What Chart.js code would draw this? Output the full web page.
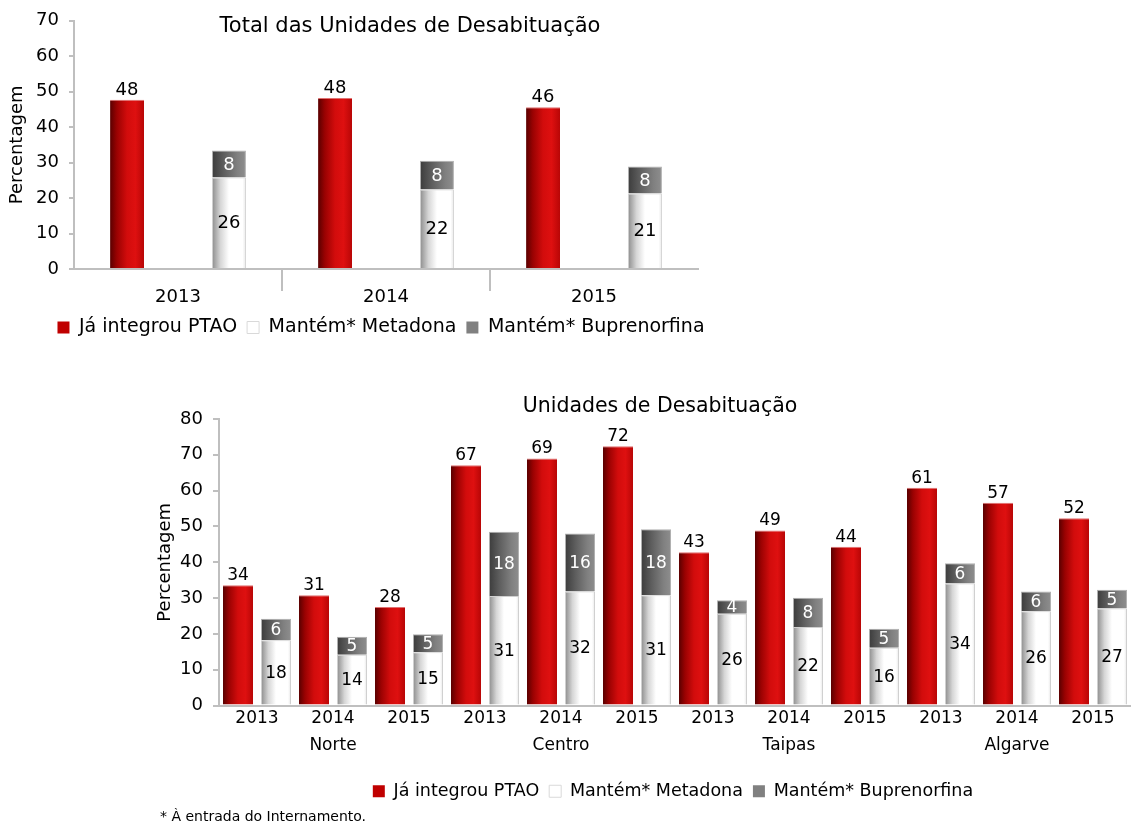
<!DOCTYPE html>
<html>
<head>
<meta charset="utf-8">
<script src="https://cdn.jsdelivr.net/npm/chart.js@4.4.0/dist/chart.umd.min.js"></script>
<style>
  html, body { margin: 0; padding: 0; background: #fff; overflow: hidden; }
  body { width: 1131px; height: 825px; position: relative; }
  #wrapTop { position: absolute; left: 0; top: 0; width: 762px; height: 347px; }
  #wrapBottom { position: absolute; left: 140px; top: 390px; width: 1066px; height: 435px; }
  #note { position: absolute; left: 160px; top: 808px; font-family: "DejaVu Sans", sans-serif; font-size: 14px; color: #000; }
</style>
</head>
<body>
<div id="wrapTop"><canvas id="topChart"></canvas></div>
<div id="wrapBottom"><canvas id="bottomChart"></canvas></div>
<div id="note">* À entrada do Internamento.</div>
<script>
// ---------- data ----------
const topYears = ['2013', '2014', '2015'];
const topPtao = [47.7, 48.2, 45.6];
const topMetadona = [25.8, 22.4, 21.3];
const topBupre = [7.6, 8.1, 7.6];

const unitYears = ['2013', '2014', '2015', '2013', '2014', '2015', '2013', '2014', '2015', '2013', '2014', '2015'];
const unitNames = ['Norte', 'Centro', 'Taipas', 'Algarve'];
const unitPtao = [33.6, 30.8, 27.5, 67.1, 69.0, 72.4, 42.8, 48.9, 44.3, 60.8, 56.6, 52.3];
const unitMetadona = [18.2, 14.2, 14.9, 30.6, 31.8, 30.8, 25.6, 21.9, 16.1, 34.1, 26.3, 27.1];
const unitBupre = [6.0, 5.0, 5.0, 17.9, 16.2, 18.4, 3.8, 8.2, 5.3, 5.6, 5.5, 5.2];

const seriesNames = ['Já integrou PTAO', 'Mantém* Metadona', 'Mantém* Buprenorfina'];

// ---------- style ----------
const FONT = '"DejaVu Sans", sans-serif';
const AXIS = '#bfbfbf';
Chart.defaults.font.family = FONT;
Chart.defaults.color = '#000';
Chart.defaults.animation = false;

const stops = {
  red: [[0, '#5a0000'], [0.2, '#9a0202'], [0.5, '#d20c0c'], [0.75, '#de1010'], [1, '#b80606']],
  white: [[0, '#8c8c8c'], [0.25, '#d6d6d6'], [0.5, '#ffffff'], [0.9, '#ffffff'], [1, '#e6e6e6']],
  grey: [[0, '#3c3c3c'], [0.35, '#5e5e5e'], [0.75, '#808080'], [1, '#8e8e8e']]
};
const legendColor = { red: '#c00000', white: '#ffffff', grey: '#808080' };

function barGradient(kind, slotSide, cp, bp) {
  return function (ctx) {
    const chart = ctx.chart;
    const xs = chart.scales.x;
    if (ctx.type !== 'data' || !xs || !isFinite(xs.width) || xs.width <= 0) return legendColor[kind];
    const n = chart.data.labels.length;
    const catW = xs.width / n;
    const slot = catW * cp / 2;
    const center = xs.getPixelForValue(ctx.dataIndex) + slotSide * slot / 2;
    const w = slot * bp;
    const g = chart.ctx.createLinearGradient(center - w / 2, 0, center + w / 2, 0);
    stops[kind].forEach(s => g.addColorStop(s[0], s[1]));
    return g;
  };
}

function makeDatasets(ptao, meta, bupre, cp, bp) {
  return [
    { label: seriesNames[0], data: ptao, stack: 'a', kind: 'red',
      backgroundColor: barGradient('red', -1, cp, bp), borderColor: '#e07070', borderWidth: { top: 1, left: 0, right: 0, bottom: 0 },
      categoryPercentage: cp, barPercentage: bp },
    { label: seriesNames[1], data: meta, stack: 'b', kind: 'white',
      backgroundColor: barGradient('white', 1, cp, bp), borderColor: '#d0d0d0', borderWidth: 1,
      categoryPercentage: cp, barPercentage: bp },
    { label: seriesNames[2], data: bupre, stack: 'b', kind: 'grey',
      backgroundColor: barGradient('grey', 1, cp, bp), borderColor: '#b0b0b0', borderWidth: 1,
      categoryPercentage: cp, barPercentage: bp }
  ];
}

const valueLabels = {
  id: 'valueLabels',
  afterDatasetsDraw(chart, args, opts) {
    const c = chart.ctx;
    c.save();
    c.font = opts.size + 'px ' + FONT;
    c.textAlign = 'center';
    chart.data.datasets.forEach((ds, di) => {
      const meta = chart.getDatasetMeta(di);
      meta.data.forEach((el, i) => {
        const txt = String(Math.round(ds.data[i]));
        if (ds.kind === 'red') {
          c.fillStyle = '#000';
          c.textBaseline = 'bottom';
          c.fillText(txt, el.x, el.y - 1);
        } else {
          c.fillStyle = ds.kind === 'grey' ? '#ffffff' : '#000';
          c.textBaseline = 'middle';
          c.fillText(txt, el.x, (el.y + el.base) / 2 + 1);
        }
      });
    });
    c.restore();
  }
};

const overTitle = {
  id: 'overTitle',
  afterDraw(chart, args, opts) {
    const c = chart.ctx;
    c.save();
    c.font = opts.size + 'px ' + FONT;
    c.fillStyle = '#000';
    c.textAlign = 'center';
    c.textBaseline = 'middle';
    c.fillText(opts.text, opts.x, opts.y);
    c.restore();
  }
};

function legendLabels(chart) {
  return chart.data.datasets.map((ds, i) => ({
    text: ds.label,
    fillStyle: legendColor[ds.kind],
    strokeStyle: ds.kind === 'white' ? '#d9d9d9' : legendColor[ds.kind],
    lineWidth: ds.kind === 'white' ? 1 : 0,
    hidden: false,
    datasetIndex: i,
    fontColor: '#000'
  }));
}

// ---------- top chart ----------
new Chart(document.getElementById('topChart'), {
  type: 'bar',
  data: { labels: topYears, datasets: makeDatasets(topPtao, topMetadona, topBupre, 0.98, 0.333) },
  plugins: [valueLabels, overTitle],
  options: {
    responsive: true,
    maintainAspectRatio: false,
    layout: { padding: { top: 10, bottom: 0 } },
    plugins: {
      tooltip: { enabled: false },
      valueLabels: { size: 18 },
      overTitle: { text: 'Total das Unidades de Desabituação', x: 410, y: 27, size: 21 },
      legend: {
        position: 'bottom',
        labels: { boxWidth: 12, boxHeight: 12, padding: 10, font: { size: 19 }, generateLabels: legendLabels }
      }
    },
    scales: {
      x: {
        stacked: true,
        grid: {
          offset: true, drawOnChartArea: false, drawTicks: true, tickLength: 22, lineWidth: 2,
          color: (ctx) => (ctx.index === undefined || ctx.index === 0 || ctx.index >= topYears.length) ? 'rgba(0,0,0,0)' : AXIS
        },
        border: { color: AXIS, width: 2 },
        ticks: { font: { size: 18 }, padding: -4 },
        afterFit(scale) { scale.height = 39; }
      },
      y: {
        stacked: true,
        min: 0, max: 70,
        ticks: { stepSize: 10, font: { size: 18 }, padding: 10 },
        grid: { drawOnChartArea: false, drawTicks: true, tickLength: 5, color: AXIS, lineWidth: 2 },
        border: { color: AXIS, width: 2 },
        title: { display: true, text: 'Percentagem', font: { size: 18 }, padding: { top: 7, bottom: 0 } },
        afterFit(scale) { scale.width = 74; }
      },
      pad: {
        position: 'right', display: true,
        grid: { display: false }, border: { display: false }, ticks: { display: false },
        afterFit(scale) { scale.width = 64; }
      }
    }
  }
});

// ---------- bottom chart ----------
const unitLabels = unitYears.map((y, i) => [y, i % 3 === 1 ? unitNames[Math.floor(i / 3)] : '']);

new Chart(document.getElementById('bottomChart'), {
  type: 'bar',
  data: { labels: unitLabels, datasets: makeDatasets(unitPtao, unitMetadona, unitBupre, 1.0, 0.79) },
  plugins: [valueLabels, overTitle],
  options: {
    responsive: true,
    maintainAspectRatio: false,
    layout: { padding: { top: 29, bottom: 15 } },
    plugins: {
      tooltip: { enabled: false },
      valueLabels: { size: 17 },
      overTitle: { text: 'Unidades de Desabituação', x: 520, y: 17, size: 20.5 },
      legend: {
        position: 'bottom',
        labels: { boxWidth: 12, boxHeight: 12, padding: 10, font: { size: 17.5 }, generateLabels: legendLabels }
      }
    },
    scales: {
      x: {
        stacked: true,
        grid: { display: true, drawOnChartArea: false, drawTicks: false },
        border: { color: AXIS, width: 2 },
        ticks: { font: { size: 17, lineHeight: 1.58 }, padding: 0, maxRotation: 0, autoSkip: false },
        afterFit(scale) { scale.height = 67; }
      },
      y: {
        stacked: true,
        min: 0, max: 80,
        ticks: { stepSize: 10, font: { size: 18 }, padding: 10 },
        grid: { drawOnChartArea: false, drawTicks: true, tickLength: 6, color: AXIS, lineWidth: 2 },
        border: { color: AXIS, width: 2 },
        title: { display: true, text: 'Percentagem', font: { size: 18 }, padding: { top: 15, bottom: 0 } },
        afterFit(scale) { scale.width = 79; }
      },
      pad: {
        position: 'right', display: true,
        grid: { display: false }, border: { display: false }, ticks: { display: false },
        afterFit(scale) { scale.width = 75; }
      }
    }
  }
});
</script>
</body>
</html>
